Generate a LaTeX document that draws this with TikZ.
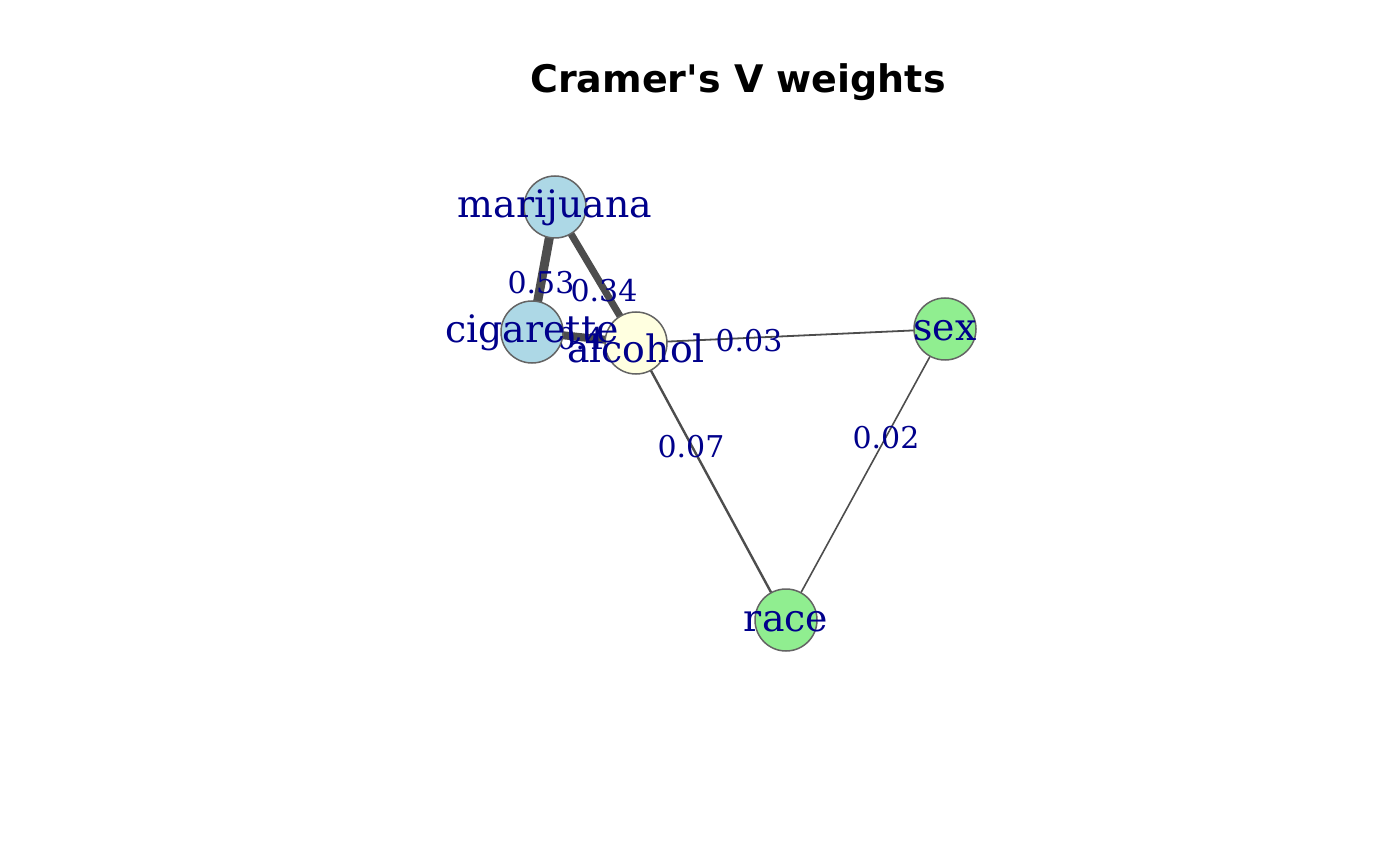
\documentclass[tikz,border=0pt]{standalone}
\usepackage{fontspec}
\newfontfamily\serif{DejaVu Serif}
\newfontfamily\titlefont{DejaVu Sans}
\definecolor{lblue}{RGB}{173,216,230}
\definecolor{lyellow}{RGB}{255,255,224}
\definecolor{lgreen}{RGB}{144,238,144}
\definecolor{dblue}{RGB}{0,0,139}
\definecolor{edgec}{RGB}{77,77,77}
\definecolor{vborder}{RGB}{100,100,100}
\tikzset{
  vtx/.style={circle, minimum size=62pt, inner sep=0pt, draw=vborder, line width=1.5pt},
  vlab/.style={text=dblue, font=\serif\fontsize{37.8}{40}\selectfont, inner sep=0pt, anchor=center},
  elab/.style={text=dblue, font=\serif\fontsize{30}{32}\selectfont, inner sep=0pt, anchor=center},
  edg/.style={draw=edgec, line cap=butt},
}
\begin{document}
\begin{tikzpicture}[x=1pt,y=-1pt]
\useasboundingbox (0,0) rectangle (1400,866);
\coordinate (m) at (555,207);
\coordinate (c) at (532,332);
\coordinate (a) at (636,343);
\coordinate (s) at (945,329);
\coordinate (r) at (786,620);
\node[font=\titlefont\bfseries\fontsize{38}{40}\selectfont, inner sep=0pt] (title) at (738,82) {Cramer's V weights};
% edges
\draw[edg, line width=9pt] (m) -- (c);
\draw[edg, line width=7pt] (m) -- (a);
\draw[edg, line width=8pt] (c) -- (a);
\draw[edg, line width=1.8pt] (a) -- (s);
\draw[edg, line width=2.4pt] (a) -- (r);
\draw[edg, line width=1.6pt] (s) -- (r);
% edge labels
\node[elab] (l1) at (541,283) {0.53};
\node[elab] (l2) at (604,291) {0.34};
\node[elab] (l3) at (590,339) {0.46};
\node[elab] (l4) at (749,341) {0.03};
\node[elab] (l5) at (691,447) {0.07};
\node[elab] (l6) at (886,438) {0.02};
% vertices
\node[vtx, fill=lblue] (mv) at (m) {};
\node[vtx, fill=lblue] (cv) at (c) {};
\node[vtx, fill=lyellow] (av) at (a) {};
\node[vtx, fill=lgreen] (sv) at (s) {};
\node[vtx, fill=lgreen] (rv) at (r) {};
% vertex labels
\node[vlab] (mt) at (555,208) {marijuana};
\node[vlab] (ct) at (532,333) {cigarette};
\node[vlab] (at) at (636,348) {alcohol};
\node[vlab] (st) at (945,331) {sex};
\node[vlab] (rt) at (786,622) {race};
\end{tikzpicture}
\end{document}
